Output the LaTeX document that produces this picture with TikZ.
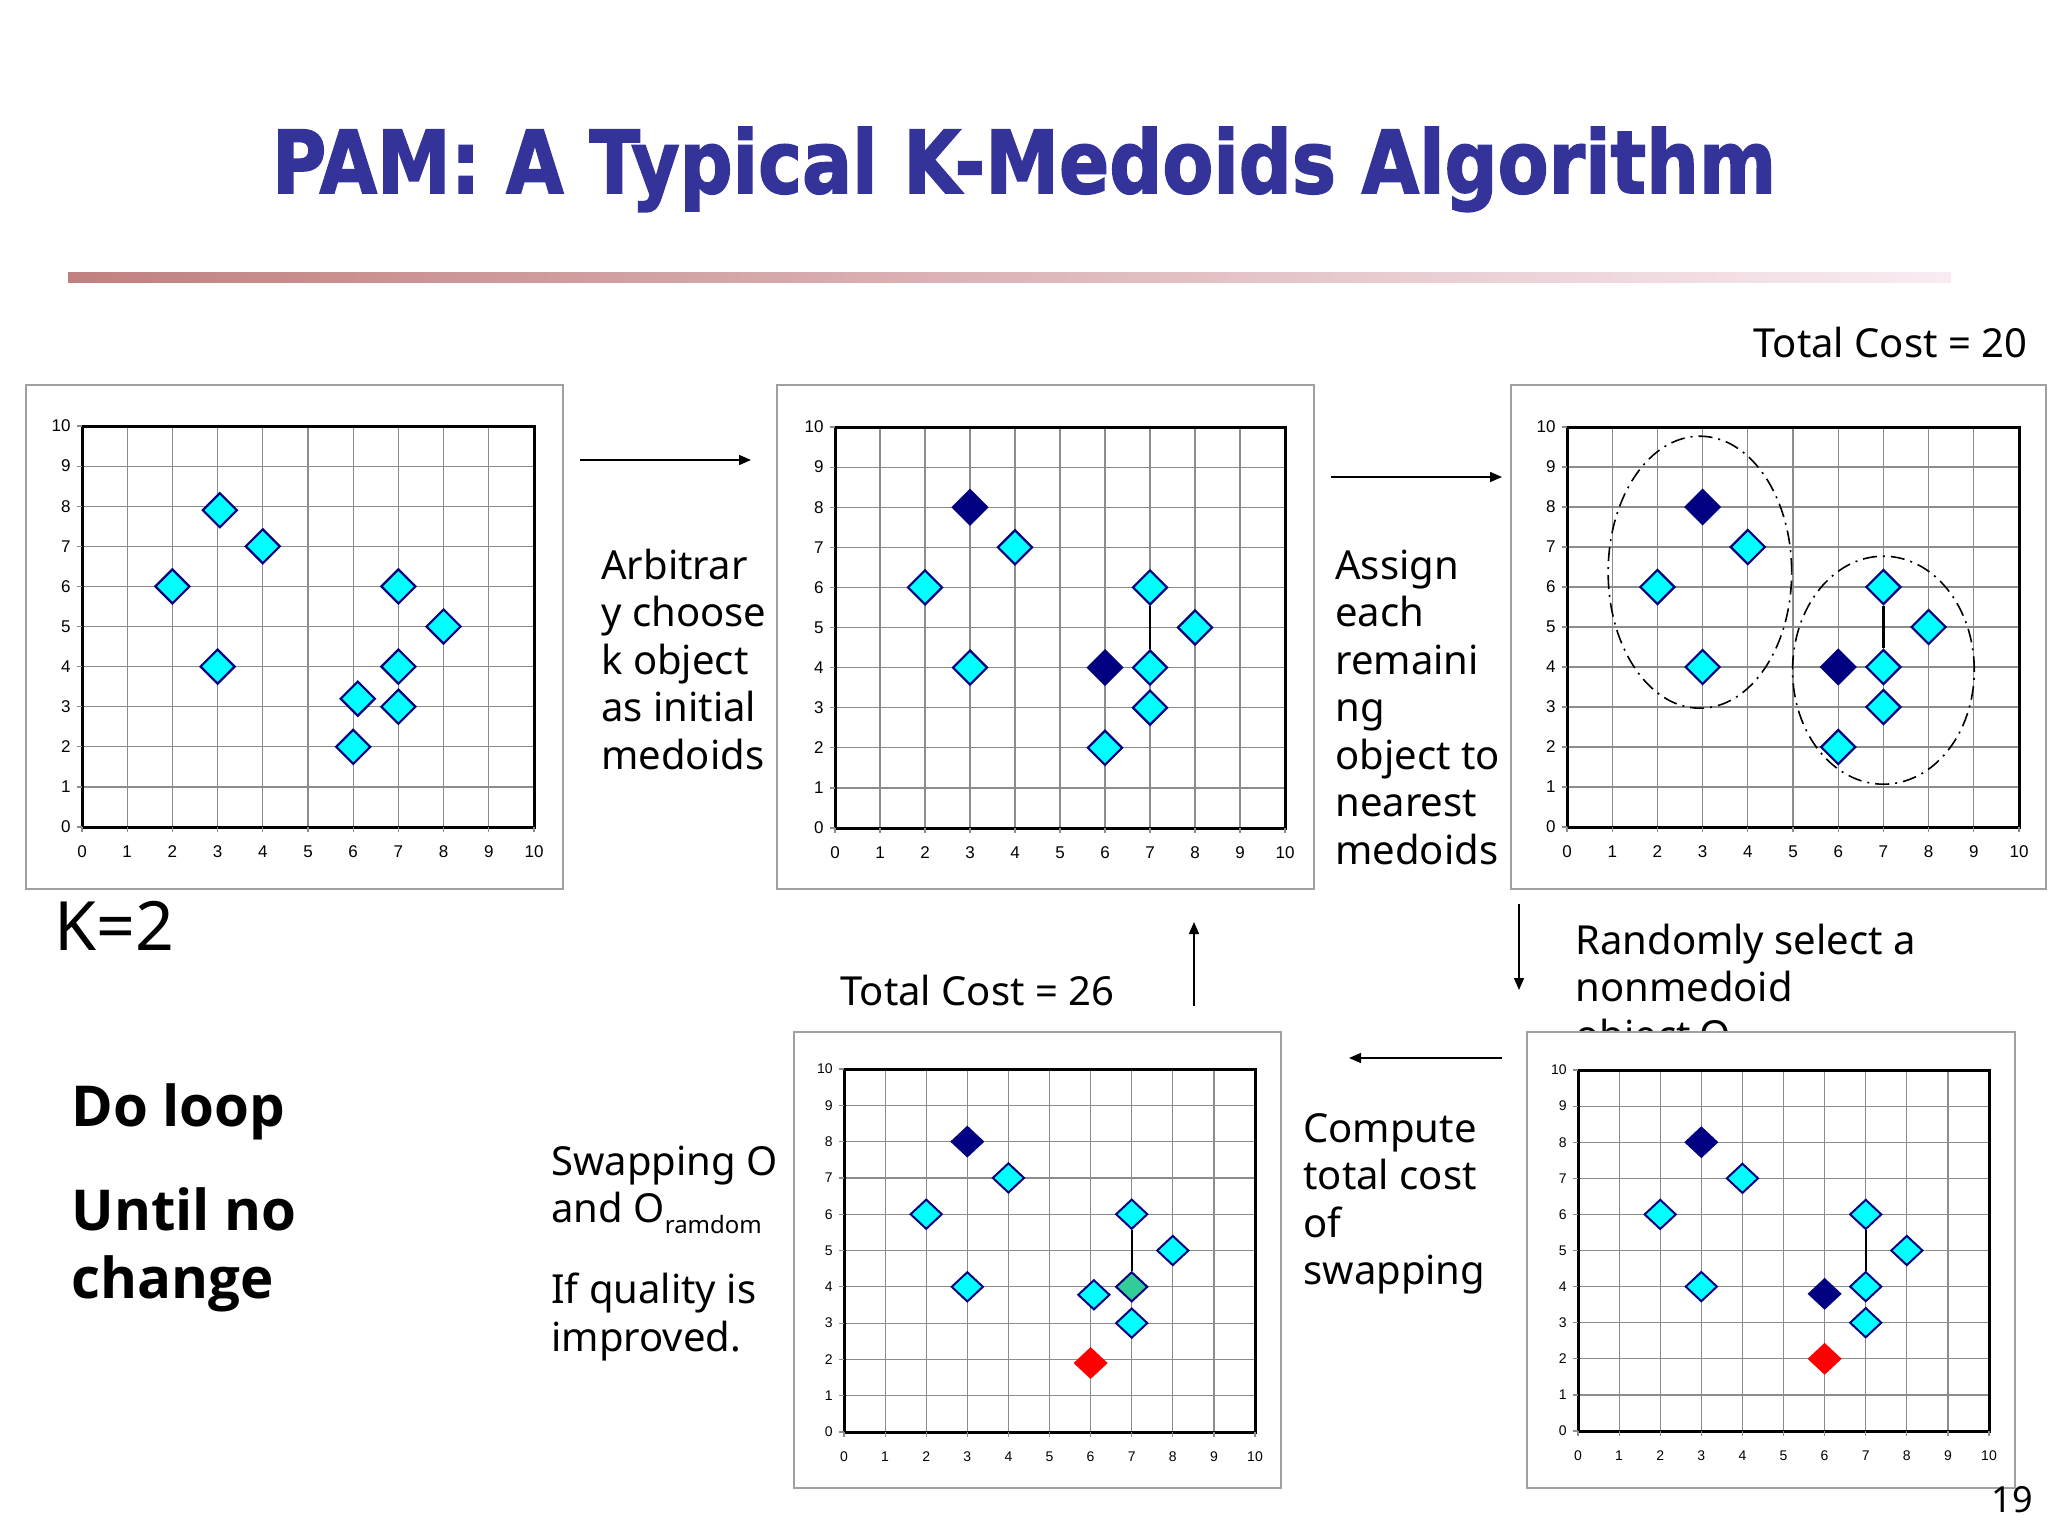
\documentclass[tikz,border=0pt]{standalone}
\usepackage{fontspec}
\setmainfont{Noto Sans}
\newfontfamily\loopfont{Open Sans}
\newfontfamily\titlefont[BoldFeatures={FakeBold=2}]{DejaVu Sans}
\newfontfamily\tickfont{Liberation Sans}
\usetikzlibrary{shapes.geometric,arrows.meta}

\definecolor{titleblue}{RGB}{51,51,153}
\definecolor{medcyan}{RGB}{0,255,255}
\definecolor{mednavy}{RGB}{0,0,128}
\definecolor{swapgreen}{RGB}{51,204,153}
\definecolor{barleft}{RGB}{192,128,128}
\definecolor{barright}{RGB}{248,236,242}
\definecolor{boxgray}{RGB}{160,160,160}
\definecolor{gridgray}{RGB}{140,140,140}

\tikzset{
  obj/.style={diamond,draw=mednavy,fill=medcyan,line width=1.1pt,inner sep=0pt,
    minimum width=17.5pt,minimum height=17.5pt},
  med/.style={obj,fill=mednavy},
  rnd/.style={obj,draw=red,fill=red},
  swp/.style={obj,fill=swapgreen},
  panel/.style={draw=boxgray,line width=1pt,fill=white},
  gridln/.style={draw=gridgray,line width=0.6pt},
  frame/.style={line width=1.5pt},
  link/.style={line width=1.2pt},
  clus/.style={line width=0.8pt,dash pattern=on 7pt off 3pt on 1pt off 3pt},
  arr/.style={-{Triangle[length=6pt,width=5pt]},line width=0.7pt},
  txt/.style={anchor=base west,inner sep=0pt,font=\fontsize{20}{23.75}\selectfont},
}

\newcommand{\lns}[1]{\parbox[t]{12cm}{\raggedright #1}}
% grid, frame, ticks and tick labels of one plot (#1 prefix, #2 label font)
\newcommand{\kaxes}[2]{%
  \foreach \i in {1,...,9} {
    \draw[gridln] (\i,0) -- (\i,10);
    \draw[gridln] (0,\i) -- (10,\i);
  }
  \draw[frame] (0,0) rectangle (10,10);
  \foreach \i in {0,...,10} {
    \draw[gridln] (\i,0) -- ++(0pt,-2.5pt);
    \draw[gridln] (0,\i) -- ++(-2.5pt,0pt);
    \node[anchor=east,inner sep=0pt,font=#2] (#1y\i) at ([xshift=-5.5pt]0,\i) {\i};
    \node[inner sep=0pt,font=#2] (#1x\i) at ([yshift=-12.5pt]\i,0) {\i};
  }
}

\begin{document}
\begin{tikzpicture}[x=0.5pt,y=-0.5pt]
\useasboundingbox[fill=white] (0,0) rectangle (2048,1536);

\node[anchor=base,text=titleblue,inner sep=0pt] (title) at (1024,193)
  {\resizebox{752pt}{33pt}{\titlefont\bfseries PAM: A Typical K-Medoids Algorithm}};
\shade[left color=barleft,right color=barright] (68,272) rectangle (1951,282);

% plot 1: the data
\draw[panel] (26,385) rectangle (563,889);
\begin{scope}[shift={(82,827)},x=22.6pt,y=20.05pt]
  \kaxes{a}{\tickfont\fontsize{8.5}{10}\selectfont}
  \foreach \n/\px/\py in {a/3.05/7.9,b/4/7,c/2/6,d/3/4,e/7/6,f/8/5,g/7/4,h/6.1/3.2,i/7/3,j/6/2}
    \node[obj] (a\n) at (\px,\py) {};
\end{scope}

% plot 2: k medoids chosen
\draw[panel] (777,385) rectangle (1314,889);
\begin{scope}[shift={(835,828)},x=22.5pt,y=20.05pt]
  \kaxes{b}{\tickfont\fontsize{8.5}{10}\selectfont}
  \foreach \n/\px/\py/\s in {a/3/8/med,b/4/7/obj,c/2/6/obj,d/3/4/obj,e/7/6/obj,f/8/5/obj,
      g/7/4/obj,h/6/4/med,i/7/3/obj,j/6/2/obj}
    \node[\s] (b\n) at (\px,\py) {};
  \draw[link] (be) -- (bg);
\end{scope}

% plot 3: clusters
\draw[panel] (1511,385) rectangle (2046,889);
\begin{scope}[shift={(1567,827)},x=22.6pt,y=20pt]
  \kaxes{c}{\tickfont\fontsize{8.5}{10}\selectfont}
  \draw[clus] (2.94,6.37) ellipse [x radius=2.03,y radius=3.4];
  \draw[clus] (7,3.92) ellipse [x radius=2.01,y radius=2.85];
  \foreach \n/\px/\py/\s in {a/3/8/med,b/4/7/obj,c/2/6/obj,d/3/4/obj,e/7/6/obj,f/8/5/obj,
      g/7/4/obj,h/6/4/med,i/7/3/obj,j/6/2/obj}
    \node[\s] (c\n) at (\px,\py) {};
  \draw[link] (ce) -- (cg);
\end{scope}

\node[txt] (tc20) at (1753,357) {Total Cost = 20};
\node[txt] (arb) at (601,579) {\lns{Arbitrar\\y choose\\k object\\as initial\\medoids}};
\node[txt] (asg) at (1335,579) {\lns{Assign\\each\\remaini\\ng\\object to\\nearest\\medoids}};
\node[txt,font=\fontsize{34}{40}\selectfont] (k2) at (54,950) {K=2};
\node[txt,font=\loopfont\fontsize{28.2}{34}\selectfont\bfseries] (loop) at (71,1126)
  {\lns{Do loop\\[18pt]Until no\\change}};
\node[txt] (rnd) at (1575,954) {\lns{Randomly select a\\nonmedoid\\object,O}};
\node[txt] (tc26) at (840,1005) {Total Cost = 26};
\node[txt] (cmp) at (1303,1142) {\lns{Compute\\total cost\\of\\swapping}};
\node[txt] (swp) at (551,1175) {\lns{Swapping O\\and O\raisebox{-5.5pt}{\fontsize{12}{12}\selectfont ramdom}\\[16.75pt]If quality is\\improved.}};

% plot 4: after the swap
\draw[panel] (794,1032) rectangle (1281,1488);
\begin{scope}[shift={(844,1432)},x=20.55pt,y=18.15pt,
    obj/.append style={minimum width=16pt,minimum height=15pt,line width=1pt}]
  \kaxes{d}{\tickfont\fontsize{7}{8}\selectfont}
  \foreach \n/\px/\py/\s in {a/3/8/med,b/4/7/obj,c/2/6/obj,d/3/4/obj,e/7/6/obj,f/8/5/obj,
      g/7/4/swp,h/6.08/3.78/obj,i/7/3/obj,j/6/1.9/rnd}
    \node[\s] (d\n) at (\px,\py) {};
  \draw[link] (de) -- (dg);
\end{scope}

% plot 5: random nonmedoid
\draw[panel] (1527,1032) rectangle (2015,1488);
\begin{scope}[shift={(1578,1431)},x=20.55pt,y=18.05pt,
    obj/.append style={minimum width=16pt,minimum height=15pt,line width=1pt}]
  \kaxes{e}{\tickfont\fontsize{7}{8}\selectfont}
  \foreach \n/\px/\py/\s in {a/3/8/med,b/4/7/obj,c/2/6/obj,d/3/4/obj,e/7/6/obj,f/8/5/obj,
      g/7/4/obj,h/6/3.8/med,i/7/3/obj,j/6/2/rnd}
    \node[\s] (e\n) at (\px,\py) {};
  \draw[link] (ee) -- (eg);
\end{scope}

\node[txt,font=\fontsize{18}{20}\selectfont] (pgno) at (1991,1512) {19};

\coordinate (r1s) at (580,460);  \coordinate (r1e) at (751,460);
\coordinate (r2s) at (1331,477); \coordinate (r2e) at (1502,477);
\coordinate (dns) at (1519,904); \coordinate (dne) at (1519,990);
\coordinate (lfs) at (1502,1058); \coordinate (lfe) at (1349,1058);
\coordinate (ups) at (1194,1006); \coordinate (upe) at (1194,922);
\draw[arr] (r1s) -- (r1e);
\draw[arr] (r2s) -- (r2e);
\draw[arr] (dns) -- (dne);
\draw[arr] (lfs) -- (lfe);
\draw[arr] (ups) -- (upe);
\end{tikzpicture}
\end{document}
